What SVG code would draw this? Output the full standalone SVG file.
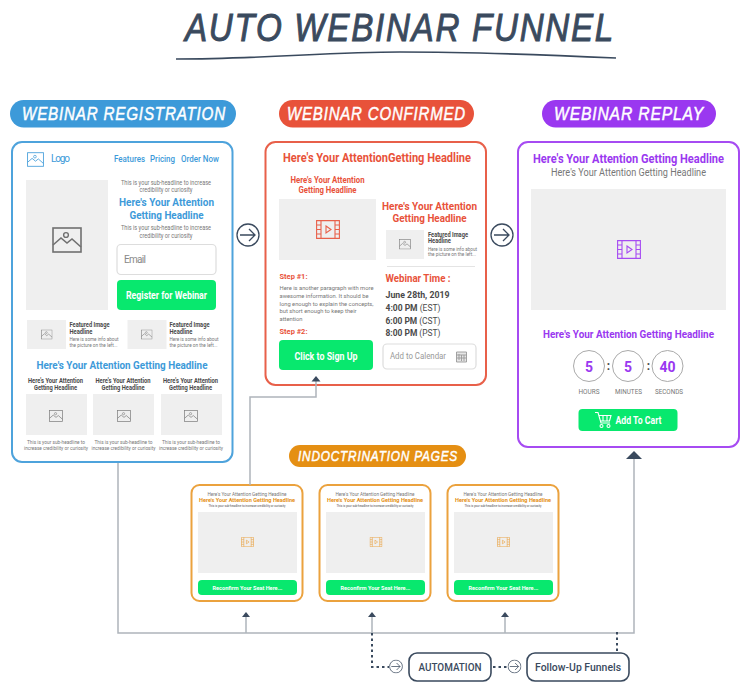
<svg xmlns="http://www.w3.org/2000/svg" width="750" height="695" viewBox="0 0 750 695">
<style>
text{font-family:Roboto,"Liberation Sans",sans-serif}
.c{text-anchor:middle}
.b{font-weight:700}
.m{font-weight:500}
.hand{font-family:"Liberation Sans",sans-serif;font-style:italic;font-weight:400;fill:#fff;stroke:#fff;stroke-width:.5;text-anchor:middle;letter-spacing:1px}
.blue{fill:#3d9ad9}.red{fill:#e8523a}.pur{fill:#9a38f0}.org{fill:#e58f13}
.dk{fill:#4a4a4a}.gr{fill:#777}
.ph{fill:#efefef}
.go{fill:#08e86e}
.wt{fill:#fff}
.card{fill:#fff;stroke-width:2}
.line{fill:none;stroke:#aeb4bb;stroke-width:1.5}
.dot{fill:none;stroke:#3a4a5e;stroke-width:2;stroke-dasharray:2.5 3}
.box{fill:#fff;stroke:#3a4a5e;stroke-width:1.6}
.field{fill:#fff;stroke:#ddd;stroke-width:1.2}
.cn{fill:#fff;stroke:#aaa;stroke-width:1}
</style>
<defs>
<symbol id="pic" viewBox="0 0 30 26"><rect x="1" y="1" width="28" height="24" fill="none" stroke="currentColor" stroke-width="1.6"/><path d="M1 18l8-7 6 5 5-4 9 8" fill="none" stroke="currentColor" stroke-width="1.6"/><circle cx="14" cy="8" r="2.4" fill="none" stroke="currentColor" stroke-width="1.4"/></symbol>
<symbol id="film" viewBox="0 0 24 19"><path d="M.6.6h22.8v17.8H.6zM5 .6v17.8M19 .6v17.800M.6 5h4.400M.6 9.500h4.400M.6 14h4.400M19 5h4.400M19 9.500h4.400M19 14h4.400" fill="none" stroke="currentColor" stroke-width="1.100"/><path d="M10 6l5 3.500-5 3.500z" fill="none" stroke="currentColor" stroke-width="1.100"/></symbol>
<symbol id="cta" viewBox="0 0 24 24"><circle cx="12" cy="12" r="11" fill="#fff" stroke="currentColor" stroke-width="1.300"/><path d="M4 12h15M13 6l6 6-6 6" fill="none" stroke="currentColor" stroke-width="1.300"/></symbol>
</defs>

<g id="title">
<text x="400" y="41" class="c" style="font-family:'Liberation Sans',sans-serif;font-style:italic;letter-spacing:2px" font-size="39" fill="#3a4a5e" stroke="#3a4a5e" stroke-width="1" textLength="430" lengthAdjust="spacingAndGlyphs">AUTO WEBINAR FUNNEL</text>
<path d="M176 59C260 59 330 52 400 52C480 52 550 55 616 58" fill="none" stroke="#3a4a5e" stroke-width="1.600"/>
</g>

<g id="webinar-registration">
<rect x="10" y="100" width="226" height="27.500" rx="13.700" fill="#3d9ad9"/>
<text x="124" y="120" class="hand" font-size="19" textLength="204" lengthAdjust="spacingAndGlyphs">WEBINAR REGISTRATION</text>
<rect class="card" x="12" y="142" width="220.500" height="320" rx="10" stroke="#4ea3dc"/>
<use href="#pic" x="27" y="152" width="17" height="15" color="#4ea3dc"/>
<text x="51" y="162" font-size="10" class="blue" textLength="19">Logo</text>
<text x="114" y="162" font-size="9.500" class="blue m" textLength="31" lengthAdjust="spacingAndGlyphs">Features</text>
<text x="150" y="162" font-size="9.500" class="blue m" textLength="25" lengthAdjust="spacingAndGlyphs">Pricing</text>
<text x="181" y="162" font-size="9.500" class="blue m" textLength="38" lengthAdjust="spacingAndGlyphs">Order Now</text>
<rect class="ph" x="26" y="180" width="82" height="130"/>
<use href="#pic" x="52" y="227" width="30" height="26" color="#707070"/>
<text x="166" y="185" font-size="6.500" class="c gr" textLength="90" lengthAdjust="spacingAndGlyphs">This is your sub-headline to increase</text>
<text x="166" y="192" font-size="6.500" class="c gr" textLength="53" lengthAdjust="spacingAndGlyphs">credibility or curiosity</text>
<text x="166.500" y="206" font-size="11.500" class="c blue b" textLength="95" lengthAdjust="spacingAndGlyphs">Here's Your Attention</text>
<text x="166.500" y="219" font-size="11.500" class="c blue b" textLength="74" lengthAdjust="spacingAndGlyphs">Getting Headline</text>
<text x="166" y="230" font-size="6.500" class="c gr" textLength="90" lengthAdjust="spacingAndGlyphs">This is your sub-headline to increase</text>
<text x="166" y="238" font-size="6.500" class="c gr" textLength="53" lengthAdjust="spacingAndGlyphs">credibility or curiosity</text>
<rect class="field" x="117" y="244.500" width="99" height="30" rx="4"/>
<text x="124" y="263" font-size="10" fill="#888" textLength="22">Email</text>
<rect class="go" x="117" y="280" width="99" height="30" rx="4"/>
<text x="166.500" y="299" font-size="10" class="c wt b" textLength="81" lengthAdjust="spacingAndGlyphs">Register for Webinar</text>
<rect class="ph" x="27" y="320" width="39" height="29"/>
<use href="#pic" x="41" y="329.500" width="11.500" height="10" color="#808080"/>
<text x="69.500" y="327" font-size="6.500" class="dk b" textLength="40" lengthAdjust="spacingAndGlyphs">Featured Image</text>
<text x="69.500" y="333.500" font-size="6.500" class="dk b" textLength="23" lengthAdjust="spacingAndGlyphs">Headline</text>
<text x="69.500" y="341" font-size="5" class="gr" textLength="49" lengthAdjust="spacingAndGlyphs">Here is some info about</text>
<text x="69.500" y="346.500" font-size="5" class="gr" textLength="48" lengthAdjust="spacingAndGlyphs">the picture on the left...</text>
<rect class="ph" x="127.500" y="320" width="39" height="29"/>
<use href="#pic" x="141" y="329.500" width="11.500" height="10" color="#808080"/>
<text x="169.500" y="327" font-size="6.500" class="dk b" textLength="40" lengthAdjust="spacingAndGlyphs">Featured Image</text>
<text x="169.500" y="333.500" font-size="6.500" class="dk b" textLength="23" lengthAdjust="spacingAndGlyphs">Headline</text>
<text x="169.500" y="341" font-size="5" class="gr" textLength="49" lengthAdjust="spacingAndGlyphs">Here is some info about</text>
<text x="169.500" y="346.500" font-size="5" class="gr" textLength="48" lengthAdjust="spacingAndGlyphs">the picture on the left...</text>
<text x="122" y="368.500" font-size="11.500" class="c blue b" textLength="171" lengthAdjust="spacingAndGlyphs">Here's Your Attention Getting Headline</text>
<text x="55.500" y="382.500" font-size="6.500" class="c dk b" textLength="55" lengthAdjust="spacingAndGlyphs">Here's Your Attention</text>
<text x="55.500" y="389.500" font-size="6.500" class="c dk b" textLength="43" lengthAdjust="spacingAndGlyphs">Getting Headline</text>
<text x="123" y="382.500" font-size="6.500" class="c dk b" textLength="55" lengthAdjust="spacingAndGlyphs">Here's Your Attention</text>
<text x="123" y="389.500" font-size="6.500" class="c dk b" textLength="43" lengthAdjust="spacingAndGlyphs">Getting Headline</text>
<text x="190.500" y="382.500" font-size="6.500" class="c dk b" textLength="55" lengthAdjust="spacingAndGlyphs">Here's Your Attention</text>
<text x="190.500" y="389.500" font-size="6.500" class="c dk b" textLength="43" lengthAdjust="spacingAndGlyphs">Getting Headline</text>
<rect class="ph" x="26" y="394" width="61" height="41"/>
<rect class="ph" x="93" y="394" width="61" height="41"/>
<rect class="ph" x="161" y="394" width="61" height="41"/>
<use href="#pic" x="49" y="410" width="14" height="12" color="#808080"/>
<use href="#pic" x="117" y="410" width="14" height="12" color="#808080"/>
<use href="#pic" x="184" y="410" width="14" height="12" color="#808080"/>
<text x="56" y="443.500" font-size="5.500" class="c gr" textLength="58" lengthAdjust="spacingAndGlyphs">This is your sub-headline to</text>
<text x="56" y="449.500" font-size="5.500" class="c gr" textLength="64" lengthAdjust="spacingAndGlyphs">increase credibility or curiosity</text>
<text x="123.500" y="443.500" font-size="5.500" class="c gr" textLength="58" lengthAdjust="spacingAndGlyphs">This is your sub-headline to</text>
<text x="123.500" y="449.500" font-size="5.500" class="c gr" textLength="64" lengthAdjust="spacingAndGlyphs">increase credibility or curiosity</text>
<text x="191" y="443.500" font-size="5.500" class="c gr" textLength="58" lengthAdjust="spacingAndGlyphs">This is your sub-headline to</text>
<text x="191" y="449.500" font-size="5.500" class="c gr" textLength="64" lengthAdjust="spacingAndGlyphs">increase credibility or curiosity</text>
</g>

<g id="arrow-1"><use href="#cta" x="236" y="223" width="24" height="24" color="#3a4a5e"/></g>

<g id="webinar-confirmed">
<rect x="279" y="100" width="195" height="27.500" rx="13.700" fill="#e8523a"/>
<text x="376.500" y="120" class="hand" font-size="19" textLength="179" lengthAdjust="spacingAndGlyphs">WEBINAR CONFIRMED</text>
<rect class="card" x="265.500" y="142" width="220.500" height="243" rx="10" stroke="#e8604a"/>
<text x="377" y="162" font-size="12.500" class="c red b" textLength="188" lengthAdjust="spacingAndGlyphs">Here's Your AttentionGetting Headline</text>
<text x="327.500" y="183" font-size="9" class="c red b" textLength="74" lengthAdjust="spacingAndGlyphs">Here's Your Attention</text>
<text x="327.500" y="193" font-size="9" class="c red b" textLength="58" lengthAdjust="spacingAndGlyphs">Getting Headline</text>
<rect class="ph" x="279" y="199" width="97" height="61"/>
<use href="#film" x="316" y="220" width="24" height="19" color="#e8604a"/>
<text x="429.500" y="209.500" font-size="11" class="c red b" textLength="95" lengthAdjust="spacingAndGlyphs">Here's Your Attention</text>
<text x="429.500" y="221.500" font-size="11" class="c red b" textLength="74" lengthAdjust="spacingAndGlyphs">Getting Headline</text>
<rect class="ph" x="386" y="230" width="38" height="29"/>
<use href="#pic" x="399" y="239" width="12" height="10.500" color="#808080"/>
<text x="428" y="236.500" font-size="6.500" class="dk b" textLength="40" lengthAdjust="spacingAndGlyphs">Featured Image</text>
<text x="428" y="243" font-size="6.500" class="dk b" textLength="23" lengthAdjust="spacingAndGlyphs">Headline</text>
<text x="428" y="250.500" font-size="5" class="gr" textLength="49" lengthAdjust="spacingAndGlyphs">Here is some info about</text>
<text x="428" y="256" font-size="5" class="gr" textLength="48" lengthAdjust="spacingAndGlyphs">the picture on the left...</text>
<path d="M387 266.500H475" stroke="#e4e4e4"/>
<text x="279.500" y="279" font-size="8" class="red b" textLength="28" lengthAdjust="spacingAndGlyphs">Step #1:</text>
<text x="279.500" y="290" font-size="6" class="gr" textLength="94" lengthAdjust="spacingAndGlyphs">Here is another paragraph with more</text>
<text x="279.500" y="298" font-size="6" class="gr" textLength="89" lengthAdjust="spacingAndGlyphs">awesome information. It should be</text>
<text x="279.500" y="305.500" font-size="6" class="gr" textLength="94" lengthAdjust="spacingAndGlyphs">long enough to explain the concepts,</text>
<text x="279.500" y="313" font-size="6" class="gr" textLength="77" lengthAdjust="spacingAndGlyphs">but short enough to keep their</text>
<text x="279.500" y="321" font-size="6" class="gr" textLength="23" lengthAdjust="spacingAndGlyphs">attention</text>
<text x="279.500" y="334" font-size="8" class="red b" textLength="28" lengthAdjust="spacingAndGlyphs">Step #2:</text>
<rect class="go" x="279" y="340" width="94" height="30" rx="4"/>
<text x="326" y="359.500" font-size="10" class="c wt b" textLength="63" lengthAdjust="spacingAndGlyphs">Click to Sign Up</text>
<text x="385.500" y="282" font-size="11" class="red b" textLength="65" lengthAdjust="spacingAndGlyphs">Webinar Time :</text>
<text x="385.500" y="298" font-size="9.500" class="dk b" textLength="64" lengthAdjust="spacingAndGlyphs">June 28th, 2019</text>
<text x="385.500" y="311" font-size="9" textLength="55" lengthAdjust="spacingAndGlyphs" fill="#4a4a4a"><tspan class="b">4:00 PM</tspan> (EST)</text>
<text x="385.500" y="323.500" font-size="9" textLength="55" lengthAdjust="spacingAndGlyphs" fill="#4a4a4a"><tspan class="b">6:00 PM</tspan> (CST)</text>
<text x="385.500" y="336" font-size="9" textLength="55" lengthAdjust="spacingAndGlyphs" fill="#4a4a4a"><tspan class="b">8:00 PM</tspan> (PST)</text>
<rect class="field" x="383" y="344" width="93" height="25" rx="4"/>
<text x="390" y="359" font-size="8.500" fill="#999" textLength="56" lengthAdjust="spacingAndGlyphs">Add to Calendar</text>
<path d="M456.500 352h10v10h-10zM456.500 355h10M459 354v6M461.500 355v6M464 355v6M457 358h9" fill="#e6e6e6" stroke="#999" stroke-width=".9"/>
</g>

<g id="arrow-2"><use href="#cta" x="490" y="223" width="24" height="24" color="#3a4a5e"/></g>

<g id="webinar-replay">
<rect x="542" y="100" width="174" height="27.500" rx="13.700" fill="#9a38f0"/>
<text x="629" y="120" class="hand" font-size="19" textLength="150" lengthAdjust="spacingAndGlyphs">WEBINAR REPLAY</text>
<rect class="card" x="518" y="142" width="221" height="305" rx="10" stroke="#a64bf2"/>
<text x="628.500" y="163" font-size="12" class="c pur b" textLength="191" lengthAdjust="spacingAndGlyphs">Here's Your Attention Getting Headline</text>
<text x="628.500" y="176" font-size="10.500" class="c gr" textLength="155" lengthAdjust="spacingAndGlyphs">Here's Your Attention Getting Headline</text>
<rect class="ph" x="531" y="189" width="195" height="121"/>
<use href="#film" x="617" y="240" width="24" height="19" color="#a64bf2"/>
<text x="628.500" y="338" font-size="10.500" class="c pur b" textLength="171" lengthAdjust="spacingAndGlyphs">Here's Your Attention Getting Headline</text>
<circle class="cn" cx="589" cy="366" r="15.500"/>
<circle class="cn" cx="628" cy="366" r="15.500"/>
<circle class="cn" cx="667.500" cy="366" r="15.500"/>
<text x="589" y="372" font-size="14" class="c pur b">5</text>
<text x="628" y="372" font-size="14" class="c pur b">5</text>
<text x="667.500" y="372" font-size="14" class="c pur b">40</text>
<text x="608.500" y="370" font-size="12" class="c dk b">:</text>
<text x="648.500" y="370" font-size="12" class="c dk b">:</text>
<text x="589" y="394" font-size="7.500" class="c gr" textLength="21" lengthAdjust="spacingAndGlyphs">HOURS</text>
<text x="628.500" y="394" font-size="7.500" class="c gr" textLength="27" lengthAdjust="spacingAndGlyphs">MINUTES</text>
<text x="669" y="394" font-size="7.500" class="c gr" textLength="28" lengthAdjust="spacingAndGlyphs">SECONDS</text>
<rect class="go" x="578.500" y="409" width="99" height="22" rx="4"/>
<g fill="none" stroke="#fff" stroke-width="1.100"><path d="M595 412.500h3l3 10.500h9M599 415.500h12l-1.500 5.500h-9M603 415.500v5.500M607 415.500v5.500"/><circle cx="601.500" cy="426" r="1.500"/><circle cx="608.500" cy="426" r="1.500"/></g>
<text x="638.500" y="423.500" font-size="10" class="c wt b" textLength="46" lengthAdjust="spacingAndGlyphs">Add To Cart</text>
</g>

<g id="indoctrination-label">
<rect x="289" y="445" width="177" height="22" rx="11" fill="#e58f13"/>
<text x="378" y="461" class="hand" font-size="15" textLength="160" lengthAdjust="spacingAndGlyphs">INDOCTRINATION PAGES</text>
</g>

<g id="page-1">
<rect class="card" x="191.500" y="485" width="111" height="116" rx="8" stroke="#eba23e"/>
<text x="247" y="496" font-size="5.500" class="c gr" textLength="79" lengthAdjust="spacingAndGlyphs">Here's Your Attention Getting Headline</text>
<text x="247" y="502" font-size="6" class="c org b" textLength="96" lengthAdjust="spacingAndGlyphs">Here's Your Attention Getting Headline</text>
<text x="247" y="507" font-size="4" class="c dk" textLength="77" lengthAdjust="spacingAndGlyphs">This is your sub-headline to increase credibility or curiosity</text>
<rect class="ph" x="198" y="512" width="99" height="61"/>
<use href="#film" x="241" y="537" width="13" height="10" color="#eba23e"/>
<rect class="go" x="198" y="580" width="99" height="15" rx="4"/>
<text x="247.500" y="589.500" font-size="6" class="c wt b" textLength="70" lengthAdjust="spacingAndGlyphs">Reconfirm Your Seat Here...</text>
</g>
<g id="page-2">
<rect class="card" x="319.500" y="485" width="111" height="116" rx="8" stroke="#eba23e"/>
<text x="375" y="496" font-size="5.500" class="c gr" textLength="79" lengthAdjust="spacingAndGlyphs">Here's Your Attention Getting Headline</text>
<text x="375" y="502" font-size="6" class="c org b" textLength="96" lengthAdjust="spacingAndGlyphs">Here's Your Attention Getting Headline</text>
<text x="375" y="507" font-size="4" class="c dk" textLength="77" lengthAdjust="spacingAndGlyphs">This is your sub-headline to increase credibility or curiosity</text>
<rect class="ph" x="326" y="512" width="99" height="61"/>
<use href="#film" x="369.500" y="537" width="13" height="10" color="#eba23e"/>
<rect class="go" x="326" y="580" width="99" height="15" rx="4"/>
<text x="375.500" y="589.500" font-size="6" class="c wt b" textLength="70" lengthAdjust="spacingAndGlyphs">Reconfirm Your Seat Here...</text>
</g>
<g id="page-3">
<rect class="card" x="447.500" y="485" width="111" height="116" rx="8" stroke="#eba23e"/>
<text x="503" y="496" font-size="5.500" class="c gr" textLength="79" lengthAdjust="spacingAndGlyphs">Here's Your Attention Getting Headline</text>
<text x="503" y="502" font-size="6" class="c org b" textLength="96" lengthAdjust="spacingAndGlyphs">Here's Your Attention Getting Headline</text>
<text x="503" y="507" font-size="4" class="c dk" textLength="77" lengthAdjust="spacingAndGlyphs">This is your sub-headline to increase credibility or curiosity</text>
<rect class="ph" x="454" y="512" width="99" height="61"/>
<use href="#film" x="497" y="537" width="13" height="10" color="#eba23e"/>
<rect class="go" x="454" y="580" width="99" height="15" rx="4"/>
<text x="503.500" y="589.500" font-size="6" class="c wt b" textLength="70" lengthAdjust="spacingAndGlyphs">Reconfirm Your Seat Here...</text>
</g>

<g id="arrow-3"><use href="#cta" x="389" y="659.500" width="14" height="14" color="#3a4a5e"/></g>
<g id="automation">
<rect class="box" x="409" y="653" width="82" height="28" rx="8"/>
<text x="450" y="671" font-size="10.500" class="c m" fill="#3a4a5e" textLength="63" lengthAdjust="spacingAndGlyphs">AUTOMATION</text>
</g>
<g id="arrow-4"><use href="#cta" x="507.500" y="659.500" width="14" height="14" color="#3a4a5e"/></g>
<g id="follow-up-funnels">
<rect class="box" x="527" y="653" width="102" height="28" rx="8"/>
<text x="578" y="671" font-size="10.500" class="c m" fill="#3a4a5e" textLength="86" lengthAdjust="spacingAndGlyphs">Follow-Up Funnels</text>
</g>

<g id="connectors">
<path class="line" d="M118 463V633H634V459"/>
<path class="line" d="M250 485V397H316V381"/>
<path class="line" d="M246 633V616"/><path class="line" d="M372 633V616"/><path class="line" d="M505 633V616"/>
<path d="M634 451l8 8h-16z" fill="#3a4a5e"/>
<path d="M316 376l4.500 5.500h-9z" fill="#3a4a5e"/>
<path d="M246 612l4 5h-8z" fill="#3a4a5e"/>
<path d="M372 612l4 5h-8z" fill="#3a4a5e"/>
<path d="M505 612l4 5h-8z" fill="#3a4a5e"/>
<path class="dot" d="M372 633V667H389"/>
<path class="dot" d="M493 667H507"/>
<path class="dot" d="M617 632V653"/>
</g>
</svg>
